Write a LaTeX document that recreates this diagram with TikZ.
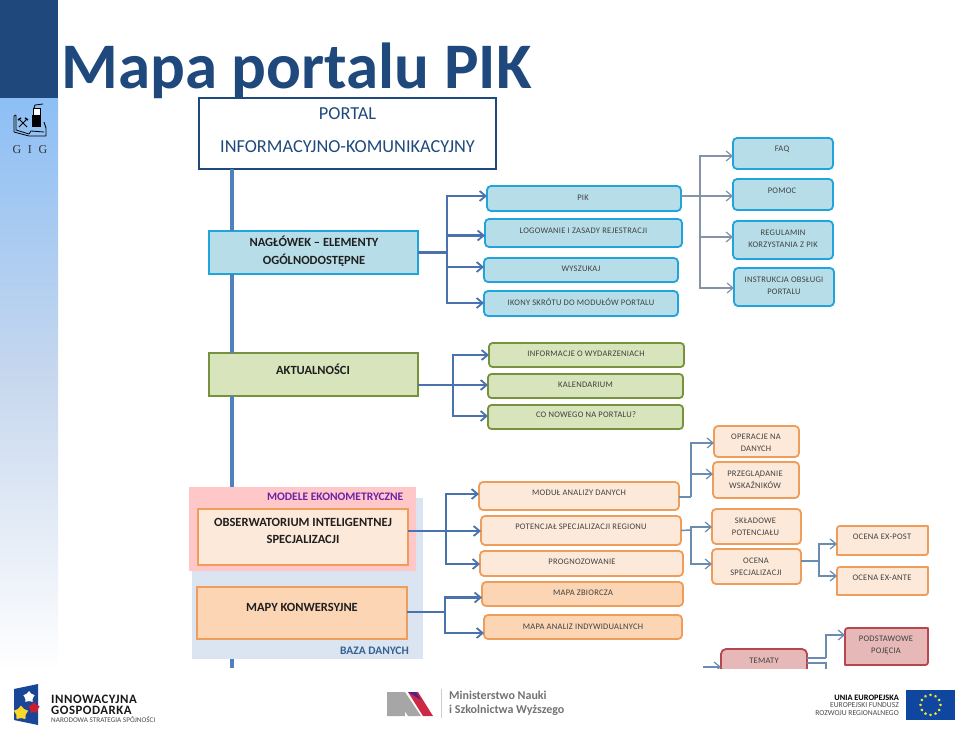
\documentclass[tikz,border=0pt]{standalone}
\usepackage{fontspec}
\setmainfont{Carlito}
\newfontfamily\gigfont{Liberation Serif}
\usetikzlibrary{arrows.meta,shapes.geometric}
\definecolor{dkblue}{HTML}{1F497D}
\definecolor{trunkc}{HTML}{4F81BD}
\definecolor{connb}{HTML}{4A72AE}
\definecolor{conng}{HTML}{8494A8}
\definecolor{connt}{HTML}{6A8CB0}
\definecolor{cyanb}{HTML}{1FA5DC}
\definecolor{cyanf}{HTML}{B7DEE8}
\definecolor{greenb}{HTML}{76923C}
\definecolor{greenf}{HTML}{D7E4BC}
\definecolor{orb}{HTML}{EF9D5A}
\definecolor{orf}{HTML}{FDE9D9}
\definecolor{ord}{HTML}{FCD5B4}
\definecolor{redb}{HTML}{B8464E}
\definecolor{redf}{HTML}{E6B9B8}
\definecolor{txtg}{HTML}{404040}
\definecolor{sidetop}{HTML}{8DBFF5}
\definecolor{sidemid}{HTML}{C8D8EE}
\definecolor{bazaf}{HTML}{DBE5F1}
\definecolor{modelf}{HTML}{FFC7C7}
\definecolor{modelt}{HTML}{7020AA}
\definecolor{bazat}{HTML}{366092}
\definecolor{igblue}{HTML}{194696}
\definecolor{igred}{HTML}{C81E32}
\definecolor{igyel}{HTML}{FAD728}
\definecolor{msred}{HTML}{CD2846}
\definecolor{mspur}{HTML}{5A1E82}
\definecolor{eublue}{HTML}{0F46A0}
\definecolor{eustarc}{HTML}{F5E62A}
\tikzset{
  bx/.style={rectangle,outer sep=0pt,inner sep=0pt},
  cyanbox/.style={bx,draw=cyanb,line width=1.8pt,fill=cyanf,rounded corners=4pt},
  greenbox/.style={bx,draw=greenb,line width=1.8pt,fill=greenf,rounded corners=3.5pt},
  orbox/.style={bx,draw=orb,line width=1.8pt,fill=orf,rounded corners=4pt},
  ordbox/.style={bx,draw=orb,line width=1.8pt,fill=ord,rounded corners=4pt},
  lab/.style={inner sep=0pt,align=center,text=txtg,font=\fontsize{8.5}{12}\selectfont\addfontfeature{LetterSpace=3}},
  big/.style={inner sep=0pt,align=center,text=black!88,font=\fontsize{12.5}{17.5}\selectfont\bfseries},
  conn/.style={draw=connb,line width=2.2pt},
  connA/.style={conn,-{Straight Barb[length=6pt,width=10pt,line width=1.8pt]}},
  gry/.style={draw=conng,line width=1.5pt},
  gryA/.style={gry,-{Straight Barb[length=6pt,width=10pt,line width=1.2pt]}},
  thn/.style={draw=connt,line width=1.5pt},
  thnA/.style={thn,-{Straight Barb[length=6pt,width=10pt,line width=1.2pt]}},
  trunk/.style={draw=trunkc,line width=3.5pt},
  eustar/.style={star,star points=5,fill=eustarc,inner sep=0pt,minimum size=3pt}
}
% name x1 y1 x2 y2 style
\newcommand{\bxx}[6]{\node[#6,minimum width={(#4-#2)*1pt},minimum height={(#5-#3)*1pt}] (#1) at ({(#2+#4)/2},{(#3+#5)/2}) {};}
% diagonal-rounded box: name x1 y1 x2 y2 draw fill
\newcommand{\diagbx}[7]{%
  \node[bx,minimum width={(#4-#2)*1pt},minimum height={(#5-#3)*1pt}] (#1) at ({(#2+#4)/2},{(#3+#5)/2}) {};
  \draw[draw=#6,fill=#7,line width=1.8pt,line join=round] (#2,{#3+6}) .. controls (#2,#3) .. ({#2+6},#3) -- (#4,#3) -- (#4,{#5-6}) .. controls (#4,#5) .. ({#4-6},#5) -- (#2,#5) -- cycle;}
\begin{document}
\begin{tikzpicture}[x=1pt,y=-1pt]
\useasboundingbox (0,0) rectangle (960,731);
\fill[white] (0,0) rectangle (960,731);
% sidebar
\fill[dkblue] (0,0) rectangle (58,98);
\shade[top color=sidetop,bottom color=white,middle color=sidemid] (0,98) rectangle (58,670);
% GIG logo
\draw[black,line width=.8pt,line join=round] (16,115) -- (14,116) -- (14,132) -- (29,136) -- (46,136) -- (46,128) -- (44,122);
\draw[black,line width=.8pt] (16,115) -- (16,130) -- (29,134) -- (31,131) -- (44,132);
\fill[black] (32,115) rectangle (41,127);
\fill[white,draw=black,line width=.7pt] (33,108) rectangle (40,115);
\draw[black,line width=.8pt] (34,108) -- (35,105) -- (43,104);
\draw[black,line width=1pt] (19,119) -- (27,127) (27,119) -- (19,127);
\draw[black,line width=1.5pt] (18,120) -- (21,118) (25,118) -- (28,120);
\node[inner sep=0pt,text=black!80,font=\fontsize{12}{12}\gigfont] (gig) at (30,149.5) {\addfontfeature{LetterSpace=30}G I G};
% title
\node[anchor=base west,inner sep=0pt,text=dkblue,font=\fontsize{65}{65}\selectfont\bfseries] (title) at (61,88) {Mapa portalu PIK};
\begin{scope}
\clip (0,0) rectangle (960,668);
\coordinate (tx) at (232,0);
% database + model panels
\bxx{baza}{192}{498}{423}{659}{bx,fill=bazaf}
\bxx{modele}{189}{487}{416}{571}{bx,fill=modelf}
% main boxes
\bxx{portal}{199}{98}{496}{169}{bx,draw=dkblue,line width=2.2pt,fill=white}
\node[inner sep=0pt,align=center,text=dkblue,font=\fontsize{18.3}{33}\selectfont] (portalt) at (347.5,130.5) {PORTAL\\INFORMACYJNO-KOMUNIKACYJNY};
\bxx{hdr}{209}{231}{418}{274}{bx,draw=cyanb,line width=1.8pt,fill=cyanf}
\node[big] (hdrt) at (314,251.5) {NAGŁÓWEK – ELEMENTY\\OGÓLNODOSTĘPNE};
\bxx{akt}{209}{353}{418}{396}{bx,draw=greenb,line width=2.2pt,fill=greenf}
\node[big] (aktt) at (313,369) {AKTUALNOŚCI};
\bxx{obs}{198}{509}{408}{565}{bx,draw=orb,line width=1.8pt,fill=orf}
\node[big] (obst) at (303,531) {OBSERWATORIUM INTELIGENTNEJ\\SPECJALIZACJI};
\bxx{mapy}{197}{587}{407}{639}{bx,draw=orb,line width=1.8pt,fill=ord}
\node[big] (mapyt) at (302,607.5) {MAPY KONWERSYJNE};
\node[anchor=east,inner sep=0pt,text=modelt,font=\fontsize{11.5}{12}\selectfont\bfseries] (modelet) at (403.5,497) {MODELE EKONOMETRYCZNE};
\node[anchor=east,inner sep=0pt,text=bazat,font=\fontsize{11.5}{12}\selectfont\bfseries] (bazatx) at (409,651) {BAZA DANYCH};
% trunk
\draw[trunk] (tx |- portal.south) -- (tx |- hdr.north);
\draw[trunk] (tx |- hdr.south) -- (tx |- akt.north);
\draw[trunk] (tx |- akt.south) -- (tx |- modele.north);
\coordinate (tend) at (232,668);
\draw[trunk] (tx |- baza.south) -- (tend);
% cyan level 2
\bxx{pik}{487}{186}{681}{211}{cyanbox}\node[lab] (pikt) at (583,198) {PIK};
\bxx{log}{485}{219}{682}{247}{cyanbox}\node[lab] (logt) at (583.5,231) {LOGOWANIE I ZASADY REJESTRACJI};
\bxx{wys}{484}{258}{678}{282}{cyanbox}\node[lab] (wyst) at (581,269) {WYSZUKAJ};
\bxx{iko}{484}{291}{678}{316}{cyanbox}\node[lab] (ikot) at (581,302) {IKONY SKRÓTU DO MODUŁÓW PORTALU};
\bxx{faq}{733}{138}{833}{169}{cyanbox}\node[lab] (faqt) at (782,149) {FAQ};
\bxx{pom}{733}{179}{833}{210}{cyanbox}\node[lab] (pomt) at (782,191) {POMOC};
\bxx{reg}{733}{221}{833}{259}{cyanbox}\node[lab] (regt) at (783,239) {REGULAMIN\\KORZYSTANIA Z PIK};
\bxx{ins}{734}{268}{834}{306}{cyanbox}\node[lab] (inst) at (784,286) {INSTRUKCJA OBSŁUGI\\PORTALU};
% green level 2
\bxx{inf}{489}{343}{684}{367}{greenbox}\node[lab] (inft) at (586,354) {INFORMACJE O WYDARZENIACH};
\bxx{kal}{488}{374}{683}{398}{greenbox}\node[lab] (kalt) at (585.5,385) {KALENDARIUM};
\bxx{cow}{488}{405}{683}{429}{greenbox}\node[lab] (cowt) at (586,415) {CO NOWEGO NA PORTALU?};
% orange level 2
\bxx{mod}{479}{482}{679}{510}{orbox}\node[lab] (modt) at (579,493) {MODUŁ ANALIZY DANYCH};
\bxx{pot}{481}{516}{681}{545}{orbox}\node[lab] (pott) at (581,527) {POTENCJAŁ SPECJALIZACJI REGIONU};
\bxx{pro}{480}{551}{683}{576}{orbox}\node[lab] (prot) at (582,562) {PROGNOZOWANIE};
\bxx{mzb}{482}{582}{683}{606}{ordbox}\node[lab] (mzbt) at (583,593) {MAPA ZBIORCZA};
\bxx{man}{484}{615}{682}{639}{ordbox}\node[lab] (mant) at (583,627) {MAPA ANALIZ INDYWIDUALNYCH};
% orange level 3
\bxx{ope}{714}{426}{799}{457}{orbox}
\begin{scope}\clip (700,426) rectangle (810,451.5);
\node[lab] (opet) at (756,443) {OPERACJE NA\\DANYCH};
\end{scope}
\bxx{prz}{713}{462}{799}{498}{orbox}\node[lab] (przt) at (755,480) {PRZEGLĄDANIE\\WSKAŹNIKÓW};
\bxx{skl}{712}{509}{801}{544}{orbox}\node[lab] (sklt) at (755.5,527) {SKŁADOWE\\POTENCJAŁU};
\bxx{oce}{712}{549}{801}{584}{orbox}\node[lab] (ocet) at (756,567) {OCENA\\SPECJALIZACJI};
\diagbx{exp}{837}{526}{928}{555}{orb}{orf}\node[lab] (expt) at (882,537) {OCENA EX-POST};
\diagbx{exa}{837}{567}{928}{595}{orb}{orf}\node[lab] (exat) at (882,578) {OCENA EX-ANTE};
% red
\diagbx{pod}{845}{628}{928}{665}{redb}{redf}\node[lab] (podt) at (886,645) {PODSTAWOWE\\POJĘCIA};
\bxx{tem}{721}{649}{807}{690}{bx,draw=redb,line width=1.8pt,fill=redf,rounded corners=5pt}\node[lab] (temt) at (764,661) {TEMATY};
% connectors
\coordinate (j1) at (447,252.5);
\draw[conn] (hdr.east) -- (j1);
\draw[connA] (j1) |- (pik.west |- 0,196);
\draw[connA] (j1) |- (log.west |- 0,235.5);
\draw[connA] (j1) |- (wys.west |- 0,267);
\draw[connA] (j1) |- (iko.west |- 0,303);
\coordinate (j2) at (700,196);
\draw[gry] (pik.east |- j2) -- (j2);
\draw[gryA] (j2) |- (faq.west |- 0,156);
\draw[gryA] (j2) -- (j2 -| pom.west);
\draw[gryA] (j2) |- (reg.west |- 0,237);
\draw[gryA] (j2) |- (ins.west |- 0,288);
\coordinate (j3) at (453,385);
\draw[conn] (akt.east |- j3) -- (j3);
\draw[connA] (j3) |- (inf.west);
\draw[connA] (j3) -- (j3 -| kal.west);
\draw[connA] (j3) |- (cow.west |- 0,416);
\coordinate (j4) at (446,531);
\draw[conn] (obs.east |- j4) -- (j4);
\draw[connA] (j4) |- (mod.west |- 0,494);
\draw[connA] (j4) -- (j4 -| pot.west);
\draw[connA] (j4) |- (pro.west |- 0,564);
\coordinate (j5) at (445,612);
\draw[conn] (mapy.east |- j5) -- (j5);
\draw[connA] (j5) |- (mzb.west |- 0,597.5);
\draw[connA] (j5) |- (man.west |- 0,633);
\coordinate (j6) at (691,497);
\draw[thn] (mod.east |- j6) -- (j6);
\draw[thnA] (j6) |- (ope.west |- 0,443);
\draw[thnA] (j6) |- (prz.west |- 0,474);
\coordinate (j7) at (691,530);
\draw[thn] (pot.east) -- (j7);
\draw[thnA] (j7) |- (skl.west |- 0,527);
\draw[thnA] (j7) |- (oce.west |- 0,564);
\coordinate (j8) at (819,561);
\draw[thn] (oce.east |- j8) -- (j8);
\draw[thnA] (j8) |- (exp.west |- 0,544);
\draw[thnA] (j8) |- (exa.west |- 0,576);
\coordinate (j9) at (826,658);
\draw[thn] (tem.east |- j9) -- (j9);
\coordinate (j9b) at (845,635);
\draw[thnA] (j9) |- (j9b);
\coordinate (j10) at (703,667);
\coordinate (j10b) at (721,667);
\draw[thnA] (j10) -- (j10b);
\coordinate (j11) at (826,663);
\coordinate (j11b) at (826,672);
\draw[thn] (tem.east |- j11) -- (j11) -- (j11b);
\end{scope}
% Innowacyjna Gospodarka
\fill[igblue] (14,689) -- (38,684) -- (38,725) -- (14,720) -- cycle;
\node[star,star points=5,fill=white,inner sep=0pt,minimum size=12pt] (s1) at (29,697) {};
\node[star,star points=5,fill=igred,inner sep=0pt,minimum size=12pt] (s2) at (34,708) {};
\node[star,star points=5,fill=igyel,inner sep=0pt,minimum size=15pt] (s3) at (21,713) {};
\node[anchor=west,inner sep=0pt,align=left,text=black!90,font=\fontsize{12.8}{11}\selectfont\bfseries\addfontfeature{LetterSpace=4}] (ig1) at (51,704.5) {INNOWACYJNA\\GOSPODARKA};
\node[anchor=west,inner sep=0pt,text=black!70,font=\fontsize{7.2}{7}\selectfont] (ig3) at (51,719.5) {NARODOWA STRATEGIA SPÓJNOŚCI};
% Ministerstwo
\fill[black!35] (387,692) -- (405,692) -- (421,716) -- (408,716) -- (405,711) -- (405,716) -- (387,716) -- cycle;
\fill[msred] (408,692) -- (418,692) -- (433,716) -- (423,716) -- cycle;
\fill[mspur] (408,692) -- (416,692) -- (421,700) -- cycle;
\draw[black!20,line width=.8pt] (441,689) -- (441,718);
\node[anchor=west,inner sep=0pt,text=black!55,font=\fontsize{12}{14}\selectfont\bfseries,align=left] (msw) at (449,703) {Ministerstwo Nauki\\i Szkolnictwa Wyższego};
% EU
\node[anchor=east,inner sep=0pt,align=right,text=black!70,font=\fontsize{7.6}{7.7}\selectfont] (eut) at (899,705) {{\fontsize{8.3}{7.7}\selectfont\bfseries\color{black}UNIA EUROPEJSKA}\\EUROPEJSKI FUNDUSZ\\ROZWOJU REGIONALNEGO};
\fill[eublue] (906,690) rectangle (955,720);
\foreach \a in {0,30,...,330}{\node[eustar] at ({930.5+10*cos(\a)},{705+10*sin(\a)}) {};}
\end{tikzpicture}
\end{document}
